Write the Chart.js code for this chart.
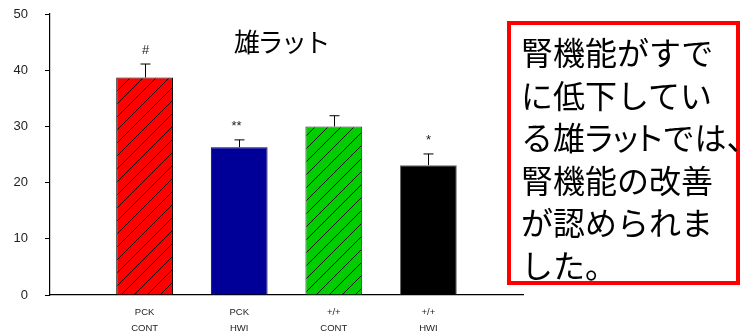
<!DOCTYPE html>
<html>
<head>
<meta charset="utf-8">
<script src="https://cdn.jsdelivr.net/npm/chart.js@4.4.0/dist/chart.umd.min.js"></script>
<style>
  body { margin: 0; background: #fff; overflow: hidden; }
  #wrap { position: relative; width: 740px; height: 333px; }
  #bars { display: block; }
  #note {
    position: absolute; left: 507px; top: 21px; width: 233px; height: 264px;
    box-sizing: border-box; border: 4.5px solid #ff0000; background: #fff;
    font-family: "Noto Sans CJK JP", sans-serif; font-size: 32px; line-height: 42.5px;
    white-space: pre; padding: 5px 0 0 10px; color: #000;
  }
  #note .kana { font-feature-settings: "palt"; }
</style>
</head>
<body>
<div id="wrap">
  <canvas id="bars" width="740" height="333"></canvas>
  <div id="note"></div>
</div>
<script>
// groups
const groups = [["PCK", "CONT"], ["PCK", "HWI"], ["+/+", "CONT"], ["+/+", "HWI"]];
const means = [38.7, 26.3, 30.0, 23.1];
const errors = [2.4, 1.3, 1.9, 2.0];
const marks = ["#", "**", "", "*"];
const fills = ["#ff0000", "#000099", "#00cc00", "#000000"];
const hatched = [true, false, true, false];
const yTicks = [0, 10, 20, 30, 40, 50];
const noteLines = ["腎機能がすで", "に低下してい", "る雄ラットでは、", "腎機能の改善", "が認められま", "した。"];

// katakana set tighter, as in the printed note
const note = document.getElementById("note");
noteLines.forEach((line, i) => {
  line.split(/([ァ-ヶー]+)/).forEach(part => {
    if (!part) return;
    const sp = document.createElement("span");
    if (/^[ァ-ヶー]+$/.test(part)) sp.className = "kana";
    sp.textContent = part;
    note.appendChild(sp);
  });
  if (i < noteLines.length - 1) note.appendChild(document.createTextNode("\n"));
});

function hatch(color) {
  const n = 13;
  const c = document.createElement("canvas");
  c.width = n; c.height = n;
  const g = c.getContext("2d");
  g.fillStyle = color;
  g.fillRect(0, 0, n, n);
  g.strokeStyle = "#000";
  g.lineWidth = 0.9;
  g.beginPath();
  g.moveTo(0, n); g.lineTo(n, 0);
  g.moveTo(-n / 2, n / 2); g.lineTo(n / 2, -n / 2);
  g.moveTo(n / 2, n * 1.5); g.lineTo(n * 1.5, n / 2);
  g.stroke();
  return g.createPattern(c, "repeat");
}

// empty slot at each end keeps the bars off the axis ends
const labels = [""].concat(groups, [""]);
const data = [null].concat(means, [null]);
const bg = [null].concat(fills.map((f, i) => hatched[i] ? hatch(f) : f), [null]);

const errorBars = {
  id: "errorBars",
  afterDatasetsDraw(chart) {
    const ctx = chart.ctx;
    const x = chart.scales.x, y = chart.scales.y;
    ctx.save();
    ctx.strokeStyle = "#000";
    ctx.lineWidth = 1;
    ctx.fillStyle = "#222";
    ctx.font = "13px Arial";
    ctx.textAlign = "center";
    means.forEach((m, i) => {
      const px = Math.round(x.getPixelForValue(i + 1)) + 0.5;
      const top = y.getPixelForValue(m + errors[i]);
      ctx.beginPath();
      ctx.moveTo(px, y.getPixelForValue(m));
      ctx.lineTo(px, top);
      ctx.moveTo(px - 5, top);
      ctx.lineTo(px + 5, top);
      ctx.stroke();
      if (marks[i]) ctx.fillText(marks[i], px - 3 * (marks[i].length - 1), top - 10);
    });
    ctx.fillStyle = "#000";
    ctx.font = "26px 'Noto Sans CJK JP'";
    ctx.letterSpacing = "-2.5px";
    ctx.textBaseline = "middle";
    ctx.fillText("雄ラット", 281, 42);
    ctx.restore();
  }
};

new Chart(document.getElementById("bars"), {
  type: "bar",
  data: {
    labels: labels,
    datasets: [{
      data: data,
      backgroundColor: bg,
      borderColor: ["#000", "#000", "#000033", "#333", "#666", "#000"],
      borderWidth: 1,
      borderSkipped: "bottom",
      barPercentage: 0.6,
      categoryPercentage: 1.0
    }]
  },
  options: {
    responsive: false,
    animation: false,
    layout: { padding: { top: 14, right: 217, left: 0, bottom: 0 } },
    plugins: { legend: { display: false }, tooltip: { enabled: false } },
    scales: {
      x: {
        offset: false,
        grid: { display: false },
        border: { color: "#000", width: 1.2 },
        ticks: {
          autoSkip: false, maxRotation: 0, padding: 1,
          color: "#222", font: { family: "Arial", size: 9.5, lineHeight: 1.7 }
        },
        afterFit(s) { s.height = 38; }
      },
      y: {
        min: 0, max: 50,
        afterBuildTicks(s) { s.ticks = yTicks.map(v => ({ value: v })); },
        grid: { drawOnChartArea: false, tickLength: 5, color: "#000" },
        border: { color: "#000", width: 1.2 },
        ticks: { padding: 17, color: "#222", font: { family: "Arial", size: 13 } },
        afterFit(s) { s.width = 50; s.paddingTop = 0; s.paddingBottom = 0; }
      }
    }
  },
  plugins: [errorBars]
});
</script>
</body>
</html>
